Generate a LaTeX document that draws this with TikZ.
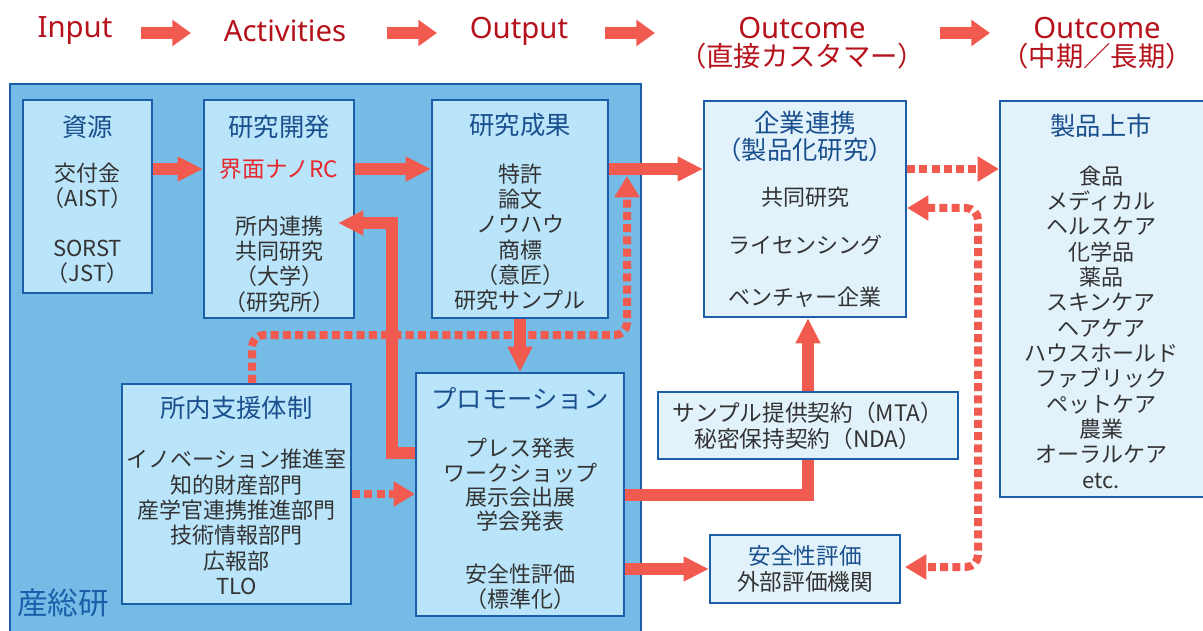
\documentclass[tikz,border=0pt]{standalone}
\usepackage{fontspec}
\setmainfont{Noto Sans CJK JP}
\newfontfamily\latinhdr{Noto Sans}
\usetikzlibrary{arrows.meta,fit}
\definecolor{bgc}{HTML}{74BBE6}
\definecolor{inboxc}{HTML}{B9E4F9}
\definecolor{outboxc}{HTML}{E1F2FB}
\definecolor{edgeblue}{HTML}{1B5FAA}
\definecolor{arrc}{HTML}{F15A4F}
\definecolor{hdrc}{HTML}{B5121B}
\definecolor{ttlc}{HTML}{1A4F8E}
\definecolor{txtc}{HTML}{333333}
\definecolor{hlc}{HTML}{E8262B}
\newcommand\fbody{\fontsize{16.5}{19}\selectfont}
\newcommand\ftitle{\fontsize{19}{20.5}\selectfont}
\newcommand\fhead{\fontsize{22}{24}\selectfont}
\newcommand\fheadjp{\fontsize{20.5}{24}\selectfont}
\begin{document}
\begin{tikzpicture}[x=0.75pt,y=-0.75pt,
  inb/.style={draw=edgeblue, fill=inboxc, line width=1.6pt, inner sep=0pt},
  outb/.style={draw=edgeblue, fill=outboxc, line width=1.6pt, inner sep=0pt},
  flow/.style={draw=arrc, line width=8.5pt, -{Triangle[width=17.5pt,length=19pt]}},
  flowline/.style={draw=arrc, line width=8.5pt},
  dotflow/.style={draw=arrc, line width=6pt, dash pattern=on 6pt off 3.2pt, rounded corners=9pt, -{Triangle[width=18pt,length=16pt]}},
  harrow/.style={draw=arrc, line width=8.5pt, -{Triangle[width=19pt,length=14pt]}},
  head/.style={text=hdrc, font=\fhead\latinhdr, align=center, inner sep=0pt},
  headjp/.style={text=hdrc, font=\fheadjp, align=center, inner sep=0pt},
  ttl/.style={text=ttlc, font=\ftitle, align=center, inner sep=0pt},
  txt/.style={text=txtc, font=\fbody, align=center, inner sep=0pt}]
\useasboundingbox (0,0) rectangle (1203,631);
\clip (0,0) rectangle (1203,631);
\fill[white] (0,0) rectangle (1203,631);

% header
\node[head] (hin) at (75,31) {Input};
\node[head] (hact) at (285,31) {Activities};
\node[head] (hout) at (519,31) {Output};
\node[head] (hoc1) at (802,28) {Outcome};
\node[headjp] (hoc1b) at (802,56) {（直接カスタマー）};
\node[head] (hoc2) at (1097,28) {Outcome};
\node[headjp] (hoc2b) at (1097,56) {（中期／長期）};
\coordinate (ha1s) at (141,33); \coordinate (ha1e) at (191,33);
\coordinate (ha2s) at (387,33); \coordinate (ha2e) at (437,33);
\coordinate (ha3s) at (605,33); \coordinate (ha3e) at (655,33);
\coordinate (ha4s) at (940,33); \coordinate (ha4e) at (990,33);
\draw[harrow] (ha1s) -- (ha1e);
\draw[harrow] (ha2s) -- (ha2e);
\draw[harrow] (ha3s) -- (ha3e);
\draw[harrow] (ha4s) -- (ha4e);

% AIST background
\node[draw=edgeblue, fill=bgc, line width=2pt, inner sep=0pt, fit={(10,84)(641,660)}] (aist) {};
\node[text=edgeblue, font=\fontsize{23}{25}\selectfont, inner sep=0pt] (aistlbl) at (63,603) {産総研};

% boxes
\node[inb, fit={(23,100)(152,293)}] (shigen) {};
\node[inb, fit={(204,100)(354,318)}] (kaihatsu) {};
\node[inb, fit={(432,100)(608,318)}] (seika) {};
\node[outb, fit={(704,101)(906,317)}] (kigyo) {};
\node[outb, fit={(1000,101)(1212,497)}] (seihin) {};
\node[inb, fit={(122,384)(351,604)}] (shien) {};
\node[inb, fit={(416,373)(624,616)}] (promo) {};
\node[outb, fit={(658,392)(958,459)}] (mta) {};
\node[outb, fit={(710,535)(900,603)}] (anzen) {};

% texts
\node[ttl] (shigenT) at (87.5,127) {資源};
\node[txt] (shigenA) at (87.5,186) {交付金\\（AIST）};
\node[txt] (shigenB) at (87.5,262) {SORST\\（JST）};

\node[ttl] (kaihatsuT) at (279,127) {研究開発};
\node[txt, text=hlc, font=\fontsize{17}{20}\selectfont] (rc) at (279,169) {界面ナノRC};
\node[txt] (kaihatsuB) at (279,264) {所内連携\\共同研究\\（大学）\\（研究所）};

\node[ttl] (seikaT) at (520,125) {研究成果};
\node[txt] (seikaB) at (520,237) {特許\\論文\\ノウハウ\\商標\\（意匠）\\研究サンプル};

\node[ttl, font=\fontsize{19}{20.3}\selectfont] (kigyoT) at (805,137) {企業連携\\（製品化研究）};
\node[txt] (kigyoA) at (805,197) {共同研究};
\node[txt] (kigyoB) at (805,245) {ライセンシング};
\node[txt] (kigyoC) at (805,297) {ベンチャー企業};

\node[ttl] (seihinT) at (1101,126) {製品上市};
\node[txt] (seihinB) at (1101,327) {食品\\メディカル\\ヘルスケア\\化学品\\薬品\\スキンケア\\ヘアケア\\ハウスホールド\\ファブリック\\ペットケア\\農業\\オーラルケア\\etc.};

\node[ttl] (shienT) at (236.5,408) {所内支援体制};
\node[txt] (shienB) at (236.5,522) {イノベーション推進室\\知的財産部門\\産学官連携推進部門\\技術情報部門\\広報部\\TLO};

\node[ttl] (promoT) at (520,399) {プロモーション};
\node[txt, font=\fontsize{16.5}{18.3}\selectfont] (promoA) at (520,485) {プレス発表\\ワークショップ\\展示会出展\\学会発表};
\node[txt] (promoB) at (520,587) {安全性評価\\（標準化）};

\node[txt, font=\fontsize{17}{19}\selectfont] (mtaT) at (808,426) {サンプル提供契約（MTA）\\秘密保持契約（NDA）};

\node[ttl, font=\fontsize{17}{20}\selectfont] (anzenT) at (805,556) {安全性評価};
\node[txt, font=\fontsize{17}{20}\selectfont] (anzenB) at (805,582) {外部評価機関};

% solid connectors
\draw[flow] (shigen.east |- rc) -- (kaihatsu.west |- rc);
\draw[flow] (kaihatsu.east |- rc) -- (seika.west |- rc);
\draw[flow] (seika.east |- rc) -- (kigyo.west |- rc);
\draw[flow] (seika.south) -- (seika.south |- promo.north);
\coordinate (fbc) at (392,453);
\coordinate (fbt) at (338,223);
\draw[flow] (promo.west |- fbc) -- (fbc) -- (fbc |- fbt) -- (fbt);
\coordinate (pm) at (808,495);
\draw[flowline] (promo.east |- pm) -- (pm) -- (mta.south);
\draw[flow] (mta.north) -- (mta.north |- kigyo.south);
\draw[flow] (promo.east |- anzen.west) -- (anzen.west);

% dotted connectors
\draw[dotflow] (shien.east) -- (shien.east -| promo.west);
\coordinate (dA) at (252,335);
\coordinate (dB) at (627,335);
\coordinate (dT) at (627,176);
\draw[dotflow] (shien.north -| dA) -- (dA) -- (dB) -- (dT);
\draw[dotflow] (kigyo.east |- rc) -- (seihin.west |- rc);
\coordinate (r1) at (978,208);
\coordinate (r2) at (978,567);
\coordinate (r3) at (905,567);
\draw[dotflow, {Triangle[width=18pt,length=16pt]}-{Triangle[width=18pt,length=16pt]}] (kigyo.east |- r1) -- (r1) -- (r2) -- (r3);
\end{tikzpicture}
\end{document}
